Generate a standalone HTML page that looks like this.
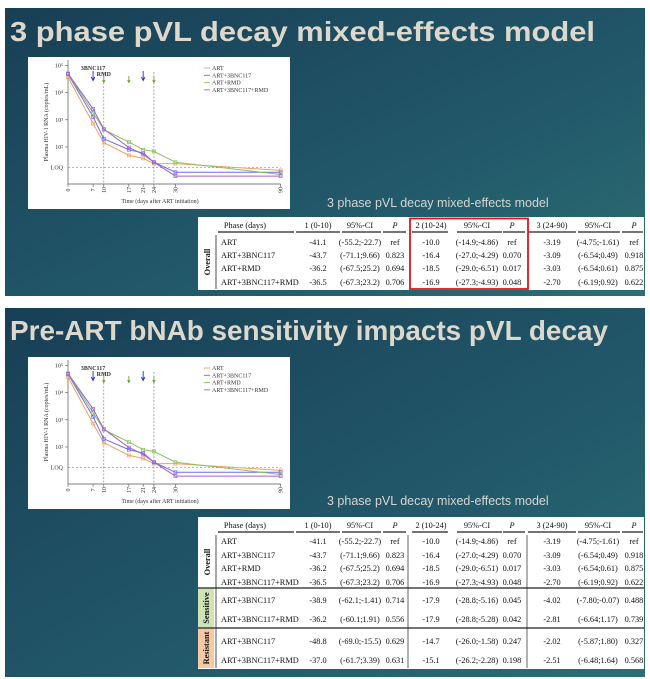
<!DOCTYPE html>
<html><head><meta charset="utf-8"><style>
html,body{margin:0;padding:0;background:#fff;}
svg{display:block;}
.t{font-family:"Liberation Serif",serif;font-size:8.3px;fill:#111;}
.ttl{font-family:"Liberation Sans",sans-serif;font-weight:bold;font-size:28px;fill:#dcd8cc;}
.sub{font-family:"Liberation Sans",sans-serif;font-size:12.5px;fill:#d6d6d0;}
.ax{font-family:"Liberation Serif",serif;font-size:6px;fill:#333;}
</style></head><body>
<svg id="page" width="650" height="679" viewBox="0 0 650 679" xmlns="http://www.w3.org/2000/svg">
<defs>
<linearGradient id="bg" x1="0" y1="0" x2="1" y2="1">
<stop offset="0" stop-color="#183f55"/><stop offset="0.6" stop-color="#22586a"/><stop offset="1" stop-color="#2b6f74"/>
</linearGradient>
</defs>
<rect x="5" y="8" width="640" height="288" fill="url(#bg)"/>
<rect x="5" y="308" width="640" height="369" fill="url(#bg)"/>
<text class="ttl" x="10" y="41" textLength="585" lengthAdjust="spacingAndGlyphs">3 phase pVL decay mixed-effects model</text>
<text class="ttl" x="10" y="340" textLength="598" lengthAdjust="spacingAndGlyphs">Pre-ART bNAb sensitivity impacts pVL decay</text>
<text class="sub" x="327" y="207">3 phase pVL decay mixed-effects model</text>
<text class="sub" x="327" y="505">3 phase pVL decay mixed-effects model</text>
<g id="chart1"></g>
<g id="chart2" transform="translate(0,300)"></g>
<g id="table1"></g>
<g id="table2"></g>
</svg>
<script>
const days = [0, 7, 10, 17, 21, 24, 30, 90];
const seriesNames = ["ART", "ART+3BNC117", "ART+RMD", "ART+3BNC117+RMD"];
const artLog = [4.57, 2.86, 2.16, 1.69, 1.58, 1.39, 1.39, 1.14];
const bncLog = [4.68, 3.11, 2.30, 1.90, 1.78, 1.44, 1.07, 1.07];
const rmdLog = [4.70, 3.26, 2.64, 2.18, 1.90, 1.84, 1.44, 0.99];
const bncRmdLog = [4.70, 3.40, 2.66, 1.98, 1.73, 1.44, 0.93, 0.93];
const yTickLog = [5, 4, 3, 2];
const yTickLabels = ["10⁵", "10⁴", "10³", "10²"];
const loqLog = 1.24;
const bncArrowDays = [7, 21];
const rmdArrowDays = [10, 17, 24];
const dashedDays = [10, 24];

const NS = "http://www.w3.org/2000/svg";
function mk(tag, attrs, parent, txt){
  const e = document.createElementNS(NS, tag);
  for (const k in attrs) e.setAttribute(k, attrs[k]);
  if (txt !== undefined) e.textContent = txt;
  parent.appendChild(e); return e;
}
function xs(d){ return d <= 30 ? 68 + d*3.58 : 175.4 + (d-30)*1.754; }
function ys(l){ return 65.4 + (5-l)*27.2; }

function buildChart(g){
  const bx = mk("rect", {x:28,y:57,width:262,height:152,fill:"#fff"}, g);
  
  
  const yb = 184;
  const ya = mk("line",{x1:68,y1:60,x2:68,y2:yb,stroke:"#555","stroke-width":0.7},g);
  
  
  const xa = mk("line",{x1:68,y1:yb,x2:xs(90),y2:yb,stroke:"#555","stroke-width":0.7},g);
  
  
  yTickLog.forEach((l,i)=>{
    const y = ys(l);
    mk("line",{x1:65,y1:y,x2:68,y2:y,stroke:"#555","stroke-width":0.6},g);
    const t = mk("text",{x:63,y:y+2,"text-anchor":"end",class:"ax"},g,yTickLabels[i]);
    
    
  });
  const lq = mk("line",{x1:68,y1:ys(loqLog),x2:xs(90),y2:ys(loqLog),stroke:"#888","stroke-width":0.6,"stroke-dasharray":"2,2"},g);
  
  
  const lqt = mk("text",{x:63,y:ys(loqLog)+2,"text-anchor":"end",class:"ax"},g,"LOQ");
  
  
  days.forEach(d=>{
    const x = xs(d);
    mk("line",{x1:x,y1:yb,x2:x,y2:yb+3,stroke:"#555","stroke-width":0.6},g);
    const t = mk("text",{x:x+2,y:yb+6,"text-anchor":"middle",class:"ax",transform:`rotate(-90 ${x+2} ${yb+6})`,"font-size":"5px"},g,String(d));
    
    
  });
  const xt = mk("text",{x:160,y:203,"text-anchor":"middle",class:"ax","font-size":"6.5px"},g,"Time (days after ART initiation)");
  
  
  const yt = mk("text",{x:48,y:122,"text-anchor":"middle",class:"ax","font-size":"5.5px",transform:"rotate(-90 48 122)"},g,"Plasma HIV-1 RNA (copies/mL)");
  
  
  dashedDays.forEach(d=>{
    const l = mk("line",{x1:xs(d),y1:72,x2:xs(d),y2:yb,stroke:"#777","stroke-width":0.6,"stroke-dasharray":"2,1.5"},g);
    
    
  });
  bncArrowDays.forEach(d=>{
    const x = xs(d);
    const a = mk("path",{d:`M${x} 71 L${x} 80 M${x-1.8} 77 L${x} 80.5 L${x+1.8} 77`,stroke:"#2233cc","stroke-width":0.9,fill:"none"},g);
    
    
  });
  rmdArrowDays.forEach(d=>{
    const x = xs(d);
    const a = mk("path",{d:`M${x} 76 L${x} 82 M${x-1.3} 80 L${x} 82.5 L${x+1.3} 80`,stroke:"#5a9a2a","stroke-width":0.8,fill:"none"},g);
    
    
  });
  const l1 = mk("text",{x:xs(7),y:70,"text-anchor":"middle",class:"ax","font-size":"6px","font-weight":"bold",fill:"#2233cc"},g,"3BNC117");
  
  
  const l2 = mk("text",{x:xs(10),y:76,"text-anchor":"middle",class:"ax","font-size":"6px","font-weight":"bold",fill:"#5a9a2a"},g,"RMD");
  
  

  const series = [artLog, bncLog, rmdLog, bncRmdLog];
  const colors = ["#f0a060","#6a6af0","#88c060","#a060d0"];
  series.forEach((vals,si)=>{
    const pts = vals.map((v,i)=>xs(days[i]).toFixed(1)+","+ys(v).toFixed(1)).join(" ");
    const pl = mk("polyline",{points:pts,fill:"none",stroke:colors[si],"stroke-width":1},g);
    
    
    vals.forEach((v,i)=>{
      const m = mk("rect",{x:xs(days[i])-1.5,y:ys(v)-1.5,width:3,height:3,fill:"none",stroke:colors[si],"stroke-width":0.7},g);
      
      
    });
    const ly = 70 + si*7.3;
    const lm = mk("line",{x1:204,y1:ly-2,x2:210,y2:ly-2,stroke:colors[si],"stroke-width":0.9},g);
    
    
    const lt = mk("text",{x:212,y:ly,class:"ax","font-size":"5.5px"},g,seriesNames[si]);
    
    
  });
}
buildChart(document.getElementById("chart1"));
buildChart(document.getElementById("chart2"));

const colX = [245,318,360,395,431,477,512,552,598,634];
const header = ["Phase (days)","1 (0-10)","95%-CI","P","2 (10-24)","95%-CI","P","3 (24-90)","95%-CI","P"];
const overallRows = [
 ["ART","-41.1","(-55.2;-22.7)","ref","-10.0","(-14.9;-4.86)","ref","-3.19","(-4.75;-1.61)","ref"],
 ["ART+3BNC117","-43.7","(-71.1;9.66)","0.823","-16.4","(-27.0;-4.29)","0.070","-3.09","(-6.54;0.49)","0.918"],
 ["ART+RMD","-36.2","(-67.5;25.2)","0.694","-18.5","(-29.0;-6.51)","0.017","-3.03","(-6.54;0.61)","0.875"],
 ["ART+3BNC117+RMD","-36.5","(-67.3;23.2)","0.706","-16.9","(-27.3;-4.93)","0.048","-2.70","(-6.19;0.92)","0.622"]];
const sensRows = [
 ["ART+3BNC117","-38.9","(-62.1;-1.41)","0.714","-17.9","(-28.8;-5.16)","0.045","-4.02","(-7.80;-0.07)","0.488"],
 ["ART+3BNC117+RMD","-36.2","(-60.1;1.91)","0.556","-17.9","(-28.8;-5.28)","0.042","-2.81","(-6.64;1.17)","0.739"]];
const resRows = [
 ["ART+3BNC117","-48.8","(-69.0;-15.5)","0.629","-14.7","(-26.0;-1.58)","0.247","-2.02","(-5.87;1.80)","0.327"],
 ["ART+3BNC117+RMD","-37.0","(-61.7;3.39)","0.631","-15.1","(-26.2;-2.28)","0.198","-2.51","(-6.48;1.64)","0.568"]];

function row(g, cells, y, name){
  cells.forEach((c,i)=>{
    const t = mk("text",{x: i==0?221:colX[i], y:y, "text-anchor": i==0?"start":"middle", class:"t"}, g, c);
    if (i==0) t.setAttribute("font-size","8px");
    if (i==2||i==5||i==8) t.setAttribute("font-size","7.8px");
    
    
  });
}
function headerRow(g, y){
  header.forEach((c,i)=>{
    const t = mk("text",{x: colX[i], y:y, "text-anchor":"middle", class:"t", "font-style": c=="P"?"italic":"normal"}, g, c);
    
    
  });
  const segs = [[218,294],[296,340],[342,381],[383,406],[412,448],[457,502],[503,525],[528,576],[578,620],[622,643]];
  segs.forEach(s=>mk("line",{x1:s[0],y1:y+4,x2:s[1],y2:y+4,stroke:"#222","stroke-width":1.2},g));
}
function vlabel(g, txt, cx, cy, name){
  const t = mk("text",{x:cx,y:cy,"text-anchor":"middle",class:"t","font-weight":"bold",transform:`rotate(-90 ${cx} ${cy})`},g,txt);
  
  
}
(function(){
  const g = document.getElementById("table1");
  mk("rect",{x:198,y:217,width:446,height:73,fill:"#fff"},g);
  headerRow(g, 228);
  const ys1 = [245,258,271,285];
  overallRows.forEach((r,i)=>row(g,r,ys1[i],"table-1-row"));
  mk("line",{x1:216,y1:235,x2:216,y2:289,stroke:"#222","stroke-width":0.8},g);
  vlabel(g,"Overall",210,262,"overall-label");
  const rb = mk("rect",{x:410,y:218.5,width:118,height:70.5,fill:"none",stroke:"#e0141a","stroke-width":1.8},g);
  
  
})();
(function(){
  const g = document.getElementById("table2");
  mk("rect",{x:198,y:517,width:446,height:152,fill:"#fff"},g);
  mk("rect",{x:198,y:588,width:16,height:40,fill:"#cfe3b4"},g);
  mk("rect",{x:198,y:628,width:16,height:40,fill:"#f4c9a6"},g);
  headerRow(g, 528);
  const ys2 = [544,558,571,585];
  overallRows.forEach((r,i)=>row(g,r,ys2[i],"table-2-overall-row"));
  sensRows.forEach((r,i)=>row(g,r,[603,622][i],"table-2-sensitive-row"));
  resRows.forEach((r,i)=>row(g,r,[644,663][i],"table-2-resistant-row"));
  mk("line",{x1:198,y1:588,x2:644,y2:588,stroke:"#222","stroke-width":1.2},g);
  mk("line",{x1:198,y1:628,x2:644,y2:628,stroke:"#222","stroke-width":1.2},g);
  mk("line",{x1:216,y1:535,x2:216,y2:668,stroke:"#222","stroke-width":0.8},g);
  mk("line",{x1:408,y1:535,x2:408,y2:668,stroke:"#222","stroke-width":0.7},g);
  mk("line",{x1:527,y1:535,x2:527,y2:668,stroke:"#222","stroke-width":0.7},g);
  vlabel(g,"Overall",210,562,"overall-label");
  vlabel(g,"Sensitive",209,608,"sensitive-label");
  vlabel(g,"Resistant",209,648,"resistant-label");
})();
</script>
</body></html>
